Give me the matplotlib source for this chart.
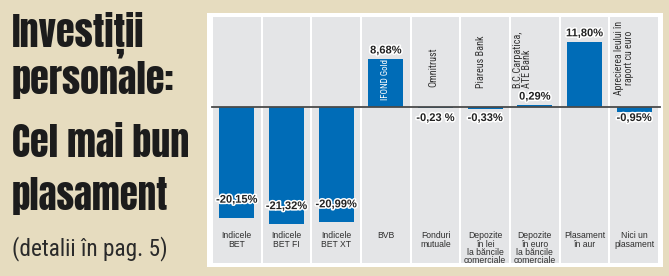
import matplotlib
matplotlib.use("Agg")
import matplotlib.pyplot as plt
from matplotlib.patches import Rectangle
import matplotlib.patheffects as pe

# ---- data ----
categories = ["Indicele\nBET", "Indicele\nBET FI", "Indicele\nBET XT", "BVB",
              "Fonduri\nmutuale", "Depozite\nîn lei\nla băncile\ncomerciale",
              "Depozite\nîn euro\nla băncile\ncomerciale", "Plasament\nîn aur",
              "Nici un\nplasament"]
values = [-20.15, -21.32, -20.99, 8.68, -0.23, -0.33, 0.29, 11.80, -0.95]
value_labels = ["-20,15%", "-21,32%", "-20,99%", "8,68%", "-0,23 %", "-0,33%",
                "0,29%", "11,80%", "-0,95%"]
product_labels = ["", "", "", "IFOND Gold", "Omnitrust", "Piareus Bank",
                  "B.C.Carpatica,\nATE Bank", "", "Aprecierea leului în\nraport cu euro"]
title_lines = ["Investiții", "personale:", "Cel mai bun", "plasament"]
subtitle = "(detalii în pag. 5)"

# ---- style ----
W, H = 669, 276
BEIGE = "#e6dcbf"
GRAY = "#e4e5e7"
BLUE = "#006cb7"
DARK = "#1c1c1c"
TITLE_F = ["Anton", "DejaVu Sans"]
COND = ["Roboto Condensed", "DejaVu Sans"]
SANS = ["Liberation Sans", "DejaVu Sans"]

fig = plt.figure(figsize=(W / 100, H / 100), dpi=100)
fig.patch.set_facecolor(BEIGE)
renderer = fig.canvas.get_renderer()

# white panel
fig.patches.append(Rectangle((207 / W, 1 - 267 / H), 456 / W, 254 / H,
                             transform=fig.transFigure, facecolor="white",
                             edgecolor="none", zorder=-10))


def fit(t, target_px):
    w = t.get_window_extent(renderer).width
    t.set_fontsize(t.get_fontsize() * target_px / w)


# title
baselines = [47, 94, 157, 210]
title_texts = []
for line, yb in zip(title_lines, baselines):
    title_texts.append(fig.text(12 / W, 1 - yb / H, line, family=TITLE_F,
                                fontsize=24, color=DARK, va="baseline", ha="left"))
fit(title_texts[2], 183)
for t in title_texts:
    t.set_fontsize(title_texts[2].get_fontsize() * 0.97)
sub = fig.text(12 / W, 1 - 255 / H, subtitle, family=COND, fontsize=18,
               color="#2a2a2a", va="baseline", ha="left")
fit(sub, 156)

# chart axes
ax = fig.add_axes([212 / W, 1 - 263 / H, 447 / W, 246 / H])
ax.set_facecolor("white")
ax.set_xlim(-0.5, len(values) - 0.5)
ax.set_ylim(-28.36, 16.36)
ax.axis("off")

for i in range(len(values)):
    ax.axvspan(i - 0.48, i + 0.48, color=GRAY, lw=0, zorder=0)

x = list(range(len(values)))
ax.bar(x, values, width=0.70, color=BLUE, zorder=2)
ax.axhline(0, color="#4a4a4a", lw=1.3, zorder=3, xmin=0, xmax=1.003,
           clip_on=False)

halo = [pe.withStroke(linewidth=2.2, foreground="white")]
for i, (v, lab) in enumerate(zip(values, value_labels)):
    if v < -5:
        y = v + 3.3
    elif v < 0:
        y = -2.0
    else:
        y = v + 1.6
    ax.text(i, y, lab, ha="center", va="center", fontsize=8.0,
            weight="bold", family=SANS, color="#222222", path_effects=halo,
            zorder=5)

for i, cat in enumerate(categories):
    ax.text(i, -22.6, cat, ha="center", va="top", fontsize=6.2,
            family=SANS, color="#2e2e2e", linespacing=0.9, zorder=5)

# rotated product labels
prod_pos = {3: (0.0, 1.3, "bottom", "center", "white", 6.5),
            4: (-0.04, 3.6, "bottom", "center", "#333333", 7.3),
            5: (-0.08, 3.45, "bottom", "center", "#333333", 7.3),
            6: (-0.26, 3.45, "bottom", "left", "#333333", 7.3),
            8: (-0.2, 8.9, "center", "center", "#333333", 7.0)}
for i, lab in enumerate(product_labels):
    if not lab:
        continue
    dx, y, va, ma, col, fs = prod_pos[i]
    ax.text(i + dx, y, lab, rotation=90, ha="center", va=va, multialignment=ma,
            fontsize=fs, family=COND, color=col, linespacing=1.0, zorder=5)

fig.savefig("out.png", dpi=100, facecolor=fig.get_facecolor())
